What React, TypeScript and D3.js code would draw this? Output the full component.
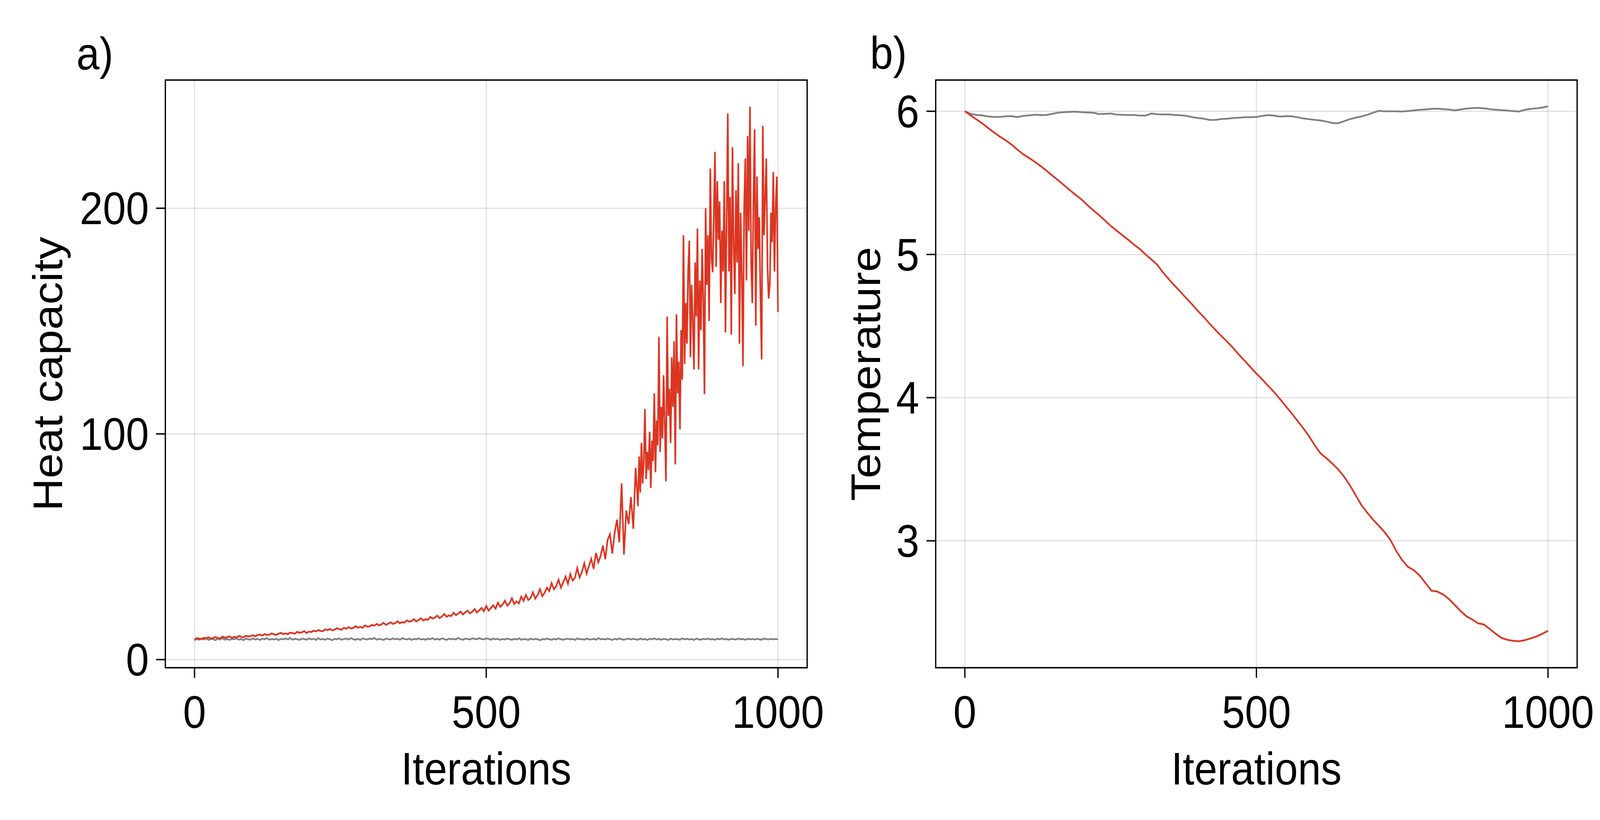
import { useEffect } from "react";
import * as d3 from "d3";

// Heat capacity: iterations 0–756 sampled every 4, then 760–1000 every 2
const heatEarlyStep = 4;
const heatLateStart = 760;
const heatLateStep = 2;
const heatRedEarly = [
  9.0, 9.5, 9.3, 9.1, 9.7, 9.4, 9.9, 9.3, 9.6, 10.0, 9.5, 9.4, 10.2, 9.7, 9.9, 10.3, 9.6, 10.1, 9.8, 10.5, 10.0, 9.9, 10.6, 10.2, 10.4,
  10.8, 10.3, 10.9, 11.1, 10.6, 11.3, 10.9, 11.0, 11.6, 11.2, 10.9, 11.5, 11.8, 11.3, 11.6, 11.2, 12.0, 11.7, 11.5, 12.3, 11.9, 12.1, 12.6, 11.8, 12.4,
  12.2, 12.8, 12.5, 13.1, 12.7, 12.6, 13.4, 13.0, 13.6, 12.9, 13.3, 13.9, 13.5, 13.2, 14.1, 13.7, 14.4, 13.8, 14.0, 14.8, 14.2, 14.5, 14.1, 15.1, 14.6,
  14.7, 15.4, 15.0, 15.8, 15.2, 15.5, 16.3, 15.4, 15.9, 16.5, 15.8, 16.2, 17.0, 16.1, 16.6, 16.4, 17.4, 16.8, 17.1, 17.9, 16.9, 17.5, 18.3, 17.3, 17.9,
  17.6, 18.9, 18.2, 18.6, 19.5, 18.4, 19.1, 20.2, 19.0, 19.6, 19.3, 20.8, 19.7, 20.4, 21.3, 20.0, 20.9, 21.7, 20.5, 21.2, 22.4, 20.9, 21.8, 22.9, 21.4,
  23.8, 21.7, 22.9, 24.1, 22.6, 25.2, 23.4, 24.4, 26.1, 23.9, 25.0, 27.2, 24.6, 25.8, 24.9, 27.9, 26.0, 28.7, 26.4, 27.3, 29.8, 27.0, 28.6, 31.2, 28.1,
  29.6, 31.8, 30.4, 33.9, 31.2, 32.6, 35.4, 31.9, 34.3, 36.8, 33.6, 37.9, 35.0, 36.2, 40.6, 36.4, 38.9, 42.7, 38.1, 41.5, 44.6, 40.2, 47.3, 43.1, 45.9,
  50.5, 44.5, 53.0, 55.5, 47.0, 56.0, 62.0, 52.0, 78.0, 46.5, 66.0, 60.0, 72.0, 58.0, 85.0,
];
const heatRedLate = [
  68, 90, 74, 96, 78, 88, 111, 80, 92, 84,
  101, 76, 97, 88, 118, 83, 106, 95, 143, 92,
  112, 98, 126, 104, 79, 152, 108, 120, 96, 134,
  112, 141, 86.5, 153, 118, 132, 102, 146, 124, 188,
  131, 158, 140, 172, 185.6, 134, 166, 150, 128.5, 176,
  152, 191, 128.6, 168, 146, 182, 160, 117.6, 200, 166,
  188, 150, 217.6, 178, 171.6, 196, 225, 174, 212, 186,
  203, 158, 190, 172, 212, 145, 196, 242, 172, 205,
  144, 227, 184, 162, 208, 176, 220, 140, 198, 171,
  130, 200, 222, 168, 232, 190, 245, 176, 158, 204,
  235, 148, 214, 182, 196, 160, 133, 236.5, 188, 204,
  222, 175, 160, 166, 198, 185, 216, 172, 201, 214,
  154,
];
const heatGrayStep = 4;
const heatGray = [
  8.6, 9.1, 8.8, 9.3, 8.9, 9.4, 8.7, 9.2, 9.0, 8.6, 9.3, 8.9, 9.5, 8.8, 9.1, 8.7, 9.2, 9.0, 9.4, 8.8,
  9.1, 8.6, 9.3, 9.0, 8.8, 9.4, 8.9, 9.2, 8.7, 9.3, 9.0, 9.5, 8.8, 9.1, 8.9, 9.3, 8.6, 9.2, 9.0, 9.4,
  8.9, 9.6, 8.8, 9.2, 9.0, 8.7, 9.3, 9.1, 8.8, 9.4, 9.0, 9.2, 8.7, 9.5, 8.9, 9.1, 8.8, 9.3, 9.0, 8.6,
  9.2, 9.0, 9.4, 8.8, 9.1, 9.3, 8.9, 9.5, 9.0, 8.8, 9.2, 8.7, 9.4, 9.1, 8.9, 9.3, 9.0, 9.6, 8.8, 9.2,
  9.0, 8.7, 9.3, 9.1, 8.9, 9.4, 9.0, 9.2, 8.8, 9.5, 9.1, 8.9, 9.3, 8.7, 9.2, 9.0, 9.4, 8.9, 9.1, 8.8,
  9.3, 9.0, 9.5, 8.9, 9.2, 8.8, 9.4, 9.1, 8.7, 9.3, 9.0, 9.2, 8.9, 9.6, 9.0, 8.8, 9.3, 9.1, 8.9, 9.4,
  9.2, 9.0, 9.5, 9.1, 8.9, 9.4, 9.2, 8.8, 9.3, 9.0, 9.2, 8.7, 9.1, 8.9, 9.3, 9.0, 8.8, 9.2, 8.9, 9.4,
  8.8, 9.1, 9.0, 8.7, 9.3, 8.9, 9.2, 9.0, 8.6, 9.1, 8.9, 9.3, 9.0, 8.8, 9.2, 8.9, 9.4, 9.0, 8.8, 9.1,
  9.3, 8.9, 9.2, 8.7, 9.4, 9.0, 9.1, 8.8, 9.3, 9.0, 8.9, 9.2, 8.8, 9.5, 9.0, 9.1, 8.9, 9.3, 9.0, 8.7,
  9.2, 8.9, 9.4, 9.0, 8.8, 9.1, 9.3, 8.9, 9.2, 9.0, 8.8, 9.3, 8.9, 9.1, 8.7, 9.2, 9.0, 9.4, 8.9, 9.1,
  8.8, 9.2, 9.0, 8.7, 9.3, 8.9, 9.1, 9.0, 8.8, 9.4, 9.0, 9.2, 8.9, 9.1, 8.7, 9.3, 9.0, 8.8, 9.2, 9.0,
  9.3, 8.9, 9.1, 8.8, 9.2, 9.0, 9.4, 8.9, 9.1, 8.8, 9.2, 9.0, 8.9, 9.3, 9.0, 9.1, 8.8, 9.2, 9.0, 9.1,
  8.9, 9.2, 9.0, 8.8, 9.3, 9.1, 8.9, 9.2, 9.0, 9.1, 9.0,
];

// Temperature per iteration (sampled every 10 iterations)
const tempStep = 10;
const tempRed = [
  6.0, 5.971, 5.943, 5.914, 5.883, 5.852, 5.823, 5.797, 5.768, 5.732,
  5.7, 5.674, 5.647, 5.617, 5.585, 5.551, 5.518, 5.484, 5.449, 5.416,
  5.384, 5.345, 5.309, 5.275, 5.238, 5.2, 5.167, 5.135, 5.103, 5.068,
  5.038, 5.0, 4.964, 4.928, 4.873, 4.826, 4.781, 4.738, 4.693, 4.65,
  4.603, 4.562, 4.515, 4.472, 4.43, 4.39, 4.347, 4.3, 4.257, 4.212,
  4.168, 4.127, 4.083, 4.04, 3.992, 3.942, 3.893, 3.84, 3.788, 3.732,
  3.667, 3.611, 3.577, 3.54, 3.5, 3.45, 3.39, 3.32, 3.25, 3.197,
  3.148, 3.105, 3.06, 3.005, 2.928, 2.865, 2.818, 2.795, 2.757, 2.705,
  2.652, 2.646, 2.626, 2.594, 2.553, 2.51, 2.474, 2.451, 2.424, 2.416,
  2.385, 2.352, 2.323, 2.309, 2.302, 2.299, 2.306, 2.318, 2.332, 2.35,
  2.372,
];
const tempGray = [
  6.0, 5.982, 5.974, 5.971, 5.964, 5.96, 5.96, 5.965, 5.966, 5.96,
  5.968, 5.971, 5.976, 5.973, 5.974, 5.982, 5.99, 5.994, 5.996, 5.997,
  5.994, 5.992, 5.99, 5.98, 5.982, 5.984, 5.977, 5.975, 5.974, 5.974,
  5.97, 5.97, 5.984, 5.979, 5.978, 5.978, 5.974, 5.972, 5.968, 5.959,
  5.953, 5.948, 5.939, 5.94, 5.946, 5.948, 5.953, 5.955, 5.958, 5.958,
  5.96, 5.968, 5.973, 5.97, 5.963, 5.966, 5.965, 5.958, 5.95, 5.945,
  5.94, 5.936, 5.928, 5.918, 5.916, 5.93, 5.945, 5.955, 5.964, 5.975,
  5.99, 6.003, 6.0, 6.0, 6.0, 5.998, 6.002, 6.006, 6.01, 6.013,
  6.017, 6.018, 6.015, 6.012, 6.007, 6.012, 6.018, 6.022, 6.024, 6.02,
  6.015, 6.011, 6.008, 6.005, 6.001, 5.998, 6.01, 6.016, 6.02, 6.026,
  6.034,
];

const xTicks = [0, 500, 1000];
const heatTicks = [0, 100, 200];
const tempTicks = [3, 4, 5, 6];

const RED = "#dc3522";
const GRAY = "#808080";
const FONT = "'Liberation Sans', Arial, Helvetica, sans-serif";
const FS = 116;
const W = 4480;
const H = 2100;

type Pt = [number, number];
type Series = { points: Pt[]; color: string };

const stepped = (values: number[], step: number, start = 0): Pt[] =>
  values.map((v, i) => [start + i * step, v]);

function Panel({
  left, right, top, bottom, yDomain, yTicks, yLabel, yLabelX, tag, tagX, tagY, series,
}: {
  left: number; right: number; top: number; bottom: number;
  yDomain: [number, number]; yTicks: number[]; yLabel: string; yLabelX: number;
  tag: string; tagX: number; tagY: number; series: Series[];
}) {
  const x = d3.scaleLinear().domain([-50, 1050]).range([left, right]);
  const y = d3.scaleLinear().domain(yDomain).range([bottom, top]);
  const tick = 26;
  const line = d3
    .line<Pt>()
    .x((d) => x(d[0]))
    .y((d) => y(d[1]));

  return (
    <g>
      {/* grid */}
      {xTicks.map((t) => (
        <line key={"gx" + t} x1={x(t)} x2={x(t)} y1={top} y2={bottom} stroke="#000" strokeOpacity={0.12} strokeWidth={3} />
      ))}
      {yTicks.map((t) => (
        <line key={"gy" + t} x1={left} x2={right} y1={y(t)} y2={y(t)} stroke="#000" strokeOpacity={0.12} strokeWidth={3} />
      ))}

      {/* data */}
      {series.map((s, k) => (
        <path key={k} d={line(s.points) || ""} fill="none" stroke={s.color} strokeWidth={4.5} />
      ))}

      {/* frame */}
      <rect x={left} y={top} width={right - left} height={bottom - top} fill="none" stroke="#000" strokeWidth={3.6} />

      {/* ticks */}
      {xTicks.map((t) => (
        <g key={"tx" + t}>
          <line x1={x(t)} x2={x(t)} y1={bottom} y2={bottom + tick} stroke="#000" strokeWidth={3.6} />
          <text x={x(t)} y={1864} textAnchor="middle" fontSize={FS} fontFamily={FONT}>{t}</text>
        </g>
      ))}
      {yTicks.map((t) => (
        <g key={"ty" + t}>
          <line x1={left - tick} x2={left} y1={y(t)} y2={y(t)} stroke="#000" strokeWidth={3.6} />
          <text x={left - 46} y={y(t) + 41} textAnchor="end" fontSize={FS} fontFamily={FONT}>{t}</text>
        </g>
      ))}

      {/* axis titles */}
      <text x={(left + right) / 2} y={2009} textAnchor="middle" fontSize={FS} fontFamily={FONT}>Iterations</text>
      <text
        transform={`translate(${yLabelX},${(top + bottom) / 2}) rotate(-90)`}
        textAnchor="middle"
        fontSize={FS}
        fontFamily={FONT}
      >
        {yLabel}
      </text>

      {/* panel tag */}
      <text x={tagX} y={tagY} fontSize={FS} fontFamily={FONT}>{tag}</text>
    </g>
  );
}

export default function App() {
  useEffect(() => {
    document.documentElement.style.overflow = "hidden";
    document.body.style.margin = "0";
    document.body.style.overflow = "hidden";
  }, []);

  const heatRedPts = [
    ...stepped(heatRedEarly, heatEarlyStep),
    ...stepped(heatRedLate, heatLateStep, heatLateStart),
  ];

  return (
    <svg
      viewBox={`0 0 ${W} ${H}`}
      preserveAspectRatio="none"
      style={{ position: "fixed", left: 0, top: 0, width: "100vw", height: "100vh", display: "block", background: "#fff" }}
    >
      <rect width={W} height={H} fill="#fff" />
      <Panel
        left={463} right={2260} top={205} bottom={1710}
        yDomain={[-3.6, 256.8]} yTicks={heatTicks}
        yLabel="Heat capacity" yLabelX={174}
        tag="a)" tagX={214} tagY={178}
        series={[
          { points: stepped(heatGray, heatGrayStep), color: GRAY },
          { points: heatRedPts, color: RED },
        ]}
      />
      <Panel
        left={2620} right={4416} top={205} bottom={1710}
        yDomain={[2.114, 6.218]} yTicks={tempTicks}
        yLabel="Temperature" yLabelX={2464}
        tag="b)" tagX={2436} tagY={176}
        series={[
          { points: stepped(tempGray, tempStep), color: GRAY },
          { points: stepped(tempRed, tempStep), color: RED },
        ]}
      />
    </svg>
  );
}
